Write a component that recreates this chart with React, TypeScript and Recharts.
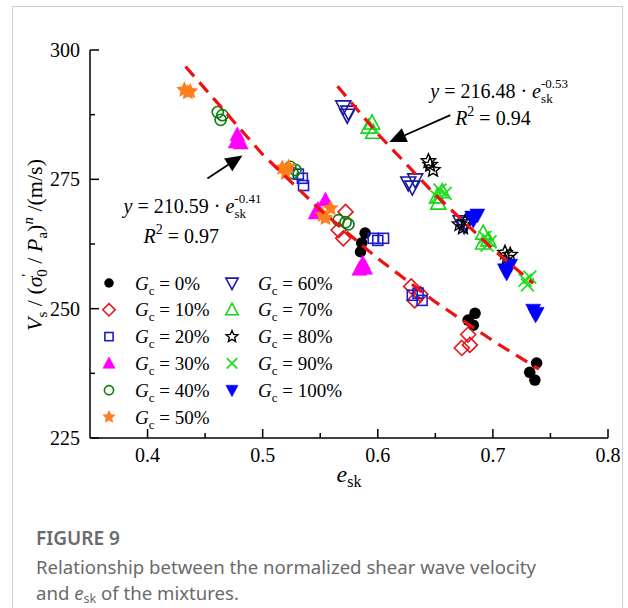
import React from 'react';
import { ScatterChart, Scatter, XAxis, YAxis, Legend } from 'recharts';

// ---------- data ----------
const X_TICKS = [0.4, 0.45, 0.5, 0.55, 0.6, 0.65, 0.7, 0.75, 0.8];
const Y_TICKS = [225, 237.5, 250, 262.5, 275, 287.5, 300];

const g0X = [0.589, 0.586, 0.585, 0.6845, 0.6785, 0.683, 0.738, 0.732, 0.7365];
const g0Y = [264.6, 262.7, 261.0, 249.1, 247.8, 246.8, 239.5, 237.7, 236.2];
const g10X = [0.572, 0.566, 0.57, 0.629, 0.632, 0.637, 0.673, 0.68, 0.6785];
const g10Y = [268.7, 265.2, 263.6, 254.3, 251.6, 252.8, 242.4, 243.0, 245.0];
const g20X = [0.531, 0.5345, 0.5355, 0.596, 0.6, 0.605, 0.63, 0.635, 0.6385];
const g20Y = [276.0, 275.2, 273.8, 263.6, 263.2, 263.6, 252.6, 253.0, 251.6];
const g30X = [0.478, 0.4765, 0.481, 0.5545, 0.546, 0.548, 0.584, 0.589, 0.587];
const g30Y = [283.6, 282.2, 282.0, 271.0, 268.5, 269.2, 257.6, 257.8, 258.8];
const g40X = [0.461, 0.465, 0.4635, 0.524, 0.5285, 0.526, 0.566, 0.572, 0.5745];
const g40Y = [288.0, 287.4, 286.5, 277.4, 276.8, 276.2, 267.1, 266.7, 266.3];
const g50X = [0.432, 0.435, 0.437, 0.517, 0.52, 0.5225, 0.552, 0.5545, 0.559];
const g50Y = [292.3, 291.8, 292.0, 277.2, 276.2, 277.4, 268.1, 267.5, 269.4];
const g60X = [0.57, 0.5745, 0.5735, 0.6265, 0.6325, 0.63, 0.672, 0.675, 0.677];
const g60Y = [289.0, 288.0, 287.4, 274.3, 274.9, 273.5, 266.8, 266.0, 266.5];
const g70X = [0.592, 0.596, 0.595, 0.6515, 0.656, 0.6525, 0.6915, 0.696, 0.6915];
const g70Y = [285.1, 284.1, 285.9, 271.6, 272.6, 270.4, 264.6, 263.3, 262.7];
const g80X = [0.6455, 0.648, 0.644, 0.7105, 0.715, 0.712, 0.671, 0.674, 0.676];
const g80Y = [277.8, 276.8, 278.5, 260.8, 260.4, 259.8, 266.3, 265.7, 266.8];
const g90X = [0.654, 0.6585, 0.6515, 0.693, 0.6975, 0.695, 0.728, 0.732, 0.73];
const g90Y = [272.9, 272.3, 271.6, 263.8, 262.9, 262.3, 255.5, 256.1, 254.6];
const g100X = [0.682, 0.6865, 0.683, 0.7105, 0.715, 0.712, 0.735, 0.738, 0.737];
const g100Y = [267.7, 268.1, 267.1, 257.5, 258.4, 256.9, 249.7, 249.1, 248.8];

// fitted curves (values of the printed equations)
const fitLowX = [0.433, 0.5, 0.55, 0.6, 0.65, 0.7, 0.74];
const fitLowY = [296.8, 279.8, 269.1, 259.7, 251.3, 243.8, 238.3];
const fitHighX = [0.565, 0.6, 0.65, 0.7, 0.735];
const fitHighY = [293.0, 283.8, 272.0, 261.5, 254.9];

const LEGEND_LABELS = ['0%', '10%', '20%', '30%', '40%', '50%', '60%', '70%', '80%', '90%', '100%'];
const EQ_LOW = { coef: '210.59', exp: '-0.41', r2: '0.97' };
const EQ_HIGH = { coef: '216.48', exp: '-0.53', r2: '0.94' };
const ANN_LOW_EQ = [{ x: 0.3792, y: 268.5 }];
const ANN_LOW_R2 = [{ x: 0.3965, y: 262.6 }];
const ANN_LOW_ARROW = [{ x: 0.4824, y: 279.6 }];
const ANN_HIGH_EQ = [{ x: 0.6456, y: 290.7 }];
const ANN_HIGH_R2 = [{ x: 0.6672, y: 285.5 }];
const ANN_HIGH_ARROW = [{ x: 0.61, y: 282.2 }];

// ---------- helpers ----------
const zip = (xs: number[], ys: number[]) => xs.map((x, i) => ({ x, y: ys[i] }));
const SERIF = "'Liberation Serif', 'Times New Roman', serif";

type Kind =
  | 'circleFill' | 'diamond' | 'square' | 'triUpFill' | 'circleOpen' | 'starFill'
  | 'triDownOpen' | 'triUpOpen' | 'starOpen' | 'cross' | 'triDownFill';

const STYLES: { kind: Kind; color: string }[] = [
  { kind: 'circleFill', color: '#000000' },
  { kind: 'diamond', color: '#e8141c' },
  { kind: 'square', color: '#1c1cc8' },
  { kind: 'triUpFill', color: '#ff00ff' },
  { kind: 'circleOpen', color: '#0a7d0a' },
  { kind: 'starFill', color: '#ff7f1e' },
  { kind: 'triDownOpen', color: '#1a1aa0' },
  { kind: 'triUpOpen', color: '#16d516' },
  { kind: 'starOpen', color: '#000000' },
  { kind: 'cross', color: '#22dd22' },
  { kind: 'triDownFill', color: '#0000ff' },
];

const SERIES = [
  zip(g0X, g0Y), zip(g10X, g10Y), zip(g20X, g20Y), zip(g30X, g30Y), zip(g40X, g40Y), zip(g50X, g50Y),
  zip(g60X, g60Y), zip(g70X, g70Y), zip(g80X, g80Y), zip(g90X, g90Y), zip(g100X, g100Y),
];

function starPoints(cx: number, cy: number, R: number, r: number) {
  const pts: string[] = [];
  for (let i = 0; i < 10; i++) {
    const a = -Math.PI / 2 + (i * Math.PI) / 5;
    const rad = i % 2 === 0 ? R : r;
    pts.push(`${cx + rad * Math.cos(a)},${cy + rad * Math.sin(a)}`);
  }
  return pts.join(' ');
}

function Marker({ kind, color, cx, cy, s = 1 }: { kind: Kind; color: string; cx: number; cy: number; s?: number }) {
  const sw = 1.6;
  switch (kind) {
    case 'circleFill':
      return <circle cx={cx} cy={cy} r={5.8 * s} fill={color} />;
    case 'circleOpen':
      return <circle cx={cx} cy={cy} r={5.6 * s} fill="none" stroke={color} strokeWidth={sw} />;
    case 'diamond':
      return (
        <polygon
          points={`${cx},${cy - 7.5 * s} ${cx + 7.5 * s},${cy} ${cx},${cy + 7.5 * s} ${cx - 7.5 * s},${cy}`}
          fill="none" stroke={color} strokeWidth={sw}
        />
      );
    case 'square':
      return <rect x={cx - 5 * s} y={cy - 5 * s} width={10 * s} height={10 * s} fill="none" stroke={color} strokeWidth={sw} />;
    case 'triUpFill':
    case 'triUpOpen':
      return (
        <polygon
          points={`${cx},${cy - 8 * s} ${cx + 7.5 * s},${cy + 6 * s} ${cx - 7.5 * s},${cy + 6 * s}`}
          fill={kind === 'triUpFill' ? color : 'none'} stroke={color} strokeWidth={kind === 'triUpFill' ? 0.5 : sw}
        />
      );
    case 'triDownFill':
    case 'triDownOpen':
      return (
        <polygon
          points={`${cx - 7.5 * s},${cy - 6 * s} ${cx + 7.5 * s},${cy - 6 * s} ${cx},${cy + 8 * s}`}
          fill={kind === 'triDownFill' ? color : 'none'} stroke={color} strokeWidth={kind === 'triDownFill' ? 0.5 : sw}
        />
      );
    case 'starFill':
      return <polygon points={starPoints(cx, cy, 8.5 * s, 4.2 * s)} fill={color} />;
    case 'starOpen':
      return <polygon points={starPoints(cx, cy, 7.5 * s, 3.4 * s)} fill="none" stroke={color} strokeWidth={1.4} />;
    case 'cross':
      return (
        <g stroke={color} strokeWidth={1.8}>
          <line x1={cx - 6.5 * s} y1={cy - 6.5 * s} x2={cx + 6.5 * s} y2={cy + 6.5 * s} />
          <line x1={cx - 6.5 * s} y1={cy + 6.5 * s} x2={cx + 6.5 * s} y2={cy - 6.5 * s} />
        </g>
      );
    default:
      return <g />;
  }
}

// ---------- ticks ----------
const YTick = (props: any) => {
  const { x, y, payload } = props;
  const major = Math.abs(payload.value % 25) < 1e-6;
  return (
    <g>
      <line x1={x} x2={x + (major ? 9 : 5)} y1={y} y2={y} stroke="#000" strokeWidth={1.5} />
      {major && (
        <text x={x - 10} y={y} dy="0.35em" textAnchor="end" fontFamily={SERIF} fontSize={20} fill="#000">
          {payload.value}
        </text>
      )}
    </g>
  );
};

const XTick = (props: any) => {
  const { x, y, payload } = props;
  const v = payload.value;
  const major = Math.abs(v * 10 - Math.round(v * 10)) < 1e-6;
  return (
    <g>
      <line x1={x} x2={x} y1={y} y2={y - (major ? 9 : 5)} stroke="#000" strokeWidth={1.5} />
      {major && (
        <text x={x} y={y + 24} textAnchor="middle" fontFamily={SERIF} fontSize={20} fill="#000">
          {v.toFixed(1)}
        </text>
      )}
    </g>
  );
};

const YLabel = () => {
  const cx = 42;
  const cy = 245;
  return (
    <text x={cx} y={cy} textAnchor="middle" transform={`rotate(-90, ${cx}, ${cy})`} fontFamily={SERIF} fontSize={22} fill="#000">
      <tspan fontStyle="italic">V</tspan>
      <tspan fontSize={15} dy={5}>s</tspan>
      <tspan dy={-5}> / (</tspan>
      <tspan fontStyle="italic">σ</tspan>
      <tspan fontSize={15} dy={-10}>'</tspan>
      <tspan fontSize={15} dx={-3} dy={15}>0</tspan>
      <tspan dy={-5}> / </tspan>
      <tspan fontStyle="italic">P</tspan>
      <tspan fontSize={15} dy={5}>a</tspan>
      <tspan dy={-5}>)</tspan>
      <tspan fontSize={15} fontStyle="italic" dy={-9}>n</tspan>
      <tspan dy={9}> /(m/s)</tspan>
    </text>
  );
};

const XLabel = (props: any) => {
  const vb = props.viewBox || {};
  const cx = vb.x + vb.width / 2;
  return (
    <text x={cx} y={482} textAnchor="middle" fontFamily={SERIF} fontSize={24} fill="#000">
      <tspan fontStyle="italic">e</tspan>
      <tspan fontSize={16} dy={5}>sk</tspan>
    </text>
  );
};

// ---------- annotations ----------
const makeEq = (eq: { coef: string; exp: string }) => (p: any) => (
  <text x={p.cx} y={p.cy} fontFamily={SERIF} fontSize={20} fill="#000">
    <tspan fontStyle="italic">y</tspan>
    <tspan> = {eq.coef} · </tspan>
    <tspan fontStyle="italic">e</tspan>
    <tspan fontSize={13} dy={-10}>{eq.exp}</tspan>
    <tspan fontSize={13} dx={-27} dy={15}>sk</tspan>
  </text>
);
const makeR2 = (eq: { r2: string }) => (p: any) => (
  <text x={p.cx} y={p.cy} fontFamily={SERIF} fontSize={20} fill="#000">
    <tspan fontStyle="italic">R</tspan>
    <tspan fontSize={14} dy={-9}>2</tspan>
    <tspan dy={9}> = {eq.r2}</tspan>
  </text>
);
const makeArrow = (tdx: number, tdy: number) => (p: any) => {
  const tipX = p.cx;
  const tipY = p.cy;
  const len = Math.hypot(tdx, tdy);
  const ux = -tdx / len;
  const uy = -tdy / len;
  const hl = 17;
  const hw = 7.5;
  const bx = tipX - ux * hl;
  const by = tipY - uy * hl;
  const nx = -uy;
  const ny = ux;
  return (
    <g>
      <line x1={tipX + tdx} y1={tipY + tdy} x2={bx} y2={by} stroke="#000" strokeWidth={1.8} />
      <polygon points={`${tipX},${tipY} ${bx + nx * hw},${by + ny * hw} ${bx - nx * hw},${by - ny * hw}`} fill="#000" />
    </g>
  );
};

// ---------- legend ----------
const LegendContent = () => {
  const rows = LEGEND_LABELS.map((lab, i) => {
    const col = i < 6 ? 0 : 1;
    const row = i < 6 ? i : i - 6;
    const sx = col === 0 ? 109 : 232;
    const sy = 283 + row * 26.8;
    return { lab, i, sx, sy };
  });
  return (
    <div style={{ position: 'relative', width: 628, height: 500 }}>
      <svg width={628} height={500} style={{ position: 'absolute', left: 0, top: 0 }}>
        {rows.map((r) => (
          <g key={r.lab}>
            <Marker kind={STYLES[r.i].kind} color={STYLES[r.i].color} cx={r.sx} cy={r.sy} s={0.82} />
            <text x={r.sx + 26} y={r.sy} dy="0.35em" fontFamily={SERIF} fontSize={19} fill="#000">
              <tspan fontStyle="italic">G</tspan>
              <tspan fontSize={13} dy={5}>c</tspan>
              <tspan dy={-5}> = {r.lab}</tspan>
            </text>
          </g>
        ))}
      </svg>
    </div>
  );
};

export default function App() {
  return (
    <div style={{ position: 'absolute', left: 0, top: 0, width: 628, height: 608, overflow: 'hidden', background: '#fff' }}>
      <div style={{ position: 'absolute', left: 12, top: 6, width: 609, height: 640, border: '1px solid #cfcfcf' }} />
      <div style={{ position: 'absolute', left: 0, top: 0 }}>
        <ScatterChart width={628} height={500} margin={{ top: 50, right: 20, bottom: 22, left: 30 }}>
          <XAxis
            type="number" dataKey="x" domain={[0.35, 0.8]} ticks={X_TICKS} allowDataOverflow
            height={40} tickSize={0} tickMargin={0} tickLine={false} tick={<XTick />}
            axisLine={{ stroke: '#000', strokeWidth: 1.5 }} interval={0}
            label={<XLabel />}
          />
          <YAxis
            type="number" dataKey="y" domain={[225, 300]} ticks={Y_TICKS} allowDataOverflow
            width={60} tickSize={0} tickMargin={0} tickLine={false} tick={<YTick />}
            axisLine={{ stroke: '#000', strokeWidth: 1.5 }} interval={0}
            label={<YLabel />}
          />
          <Legend
            layout="horizontal" verticalAlign="middle" align="center"
            wrapperStyle={{ position: 'absolute', left: 0, top: 0, width: 628, height: 500, pointerEvents: 'none' }}
            content={<LegendContent />}
          />
          {SERIES.map((d, i) => (
            <Scatter
              key={LEGEND_LABELS[i]}
              name={`Gc = ${LEGEND_LABELS[i]}`}
              data={d}
              isAnimationActive={false}
              shape={(p: any) => <Marker kind={STYLES[i].kind} color={STYLES[i].color} cx={p.cx} cy={p.cy} />}
            />
          ))}
          <Scatter
            data={zip(fitLowX, fitLowY)} isAnimationActive={false} legendType="none"
            line={{ stroke: '#ee1111', strokeWidth: 3.2, strokeDasharray: '13 8' }} shape={() => <g />}
          />
          <Scatter
            data={zip(fitHighX, fitHighY)} isAnimationActive={false} legendType="none"
            line={{ stroke: '#ee1111', strokeWidth: 3.2, strokeDasharray: '13 8' }} shape={() => <g />}
          />
          <Scatter data={ANN_LOW_EQ} isAnimationActive={false} legendType="none" shape={makeEq(EQ_LOW)} />
          <Scatter data={ANN_LOW_R2} isAnimationActive={false} legendType="none" shape={makeR2(EQ_LOW)} />
          <Scatter data={ANN_LOW_ARROW} isAnimationActive={false} legendType="none" shape={makeArrow(-35, 23)} />
          <Scatter data={ANN_HIGH_EQ} isAnimationActive={false} legendType="none" shape={makeEq(EQ_HIGH)} />
          <Scatter data={ANN_HIGH_R2} isAnimationActive={false} legendType="none" shape={makeR2(EQ_HIGH)} />
          <Scatter data={ANN_HIGH_ARROW} isAnimationActive={false} legendType="none" shape={makeArrow(61, -27)} />
        </ScatterChart>
      </div>
      <div style={{ position: 'absolute', left: 36, top: 525, fontFamily: "'Noto Sans', sans-serif", color: '#6a6a6a' }}>
        <div style={{ fontSize: 19, fontWeight: 600, lineHeight: '26px' }}>FIGURE 9</div>
        <div style={{ fontSize: 18.6, lineHeight: '26px', marginTop: 3, whiteSpace: 'nowrap' }}>
          Relationship between the normalized shear wave velocity
          <br />
          and <i>e</i>
          <span style={{ fontSize: 12.5, position: 'relative', top: 3, lineHeight: '12px' }}>sk</span> of the mixtures.
        </div>
      </div>
    </div>
  );
}
